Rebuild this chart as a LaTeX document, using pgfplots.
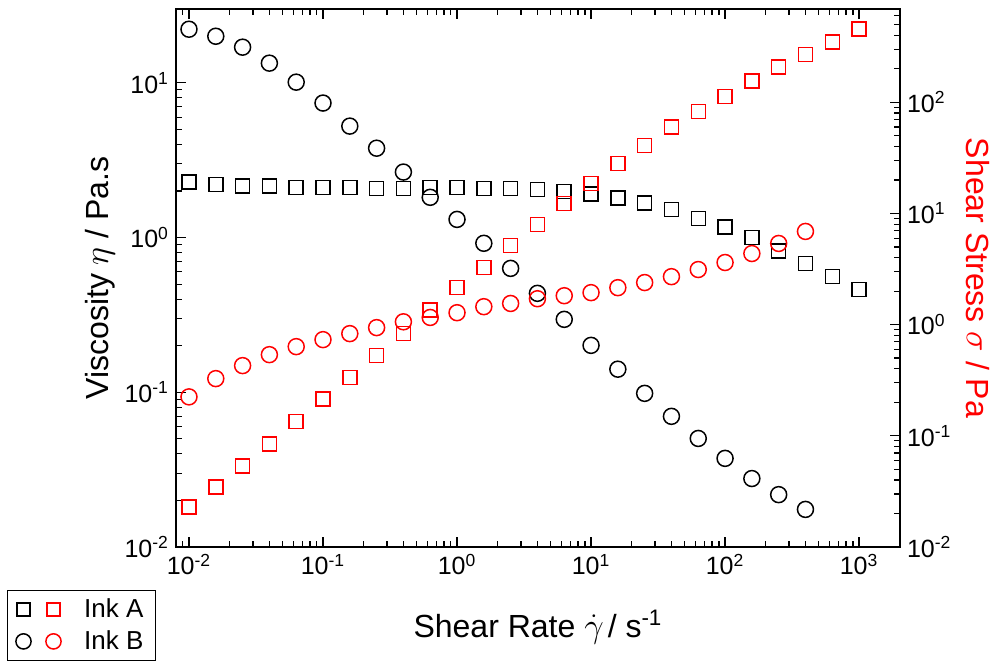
\documentclass[border=0pt]{standalone}
\usepackage{fontspec}
\setmainfont{Liberation Sans}
\usepackage{pgfplots}
\usepackage{pgfplotstable}
\pgfplotsset{compat=1.18}

% x = shear rate, eta = viscosity (Pa.s), sigma = shear stress (Pa)
\pgfplotstableread{
x eta sigma
0.01 2.28 0.0229
0.01585 2.21 0.0348
0.02512 2.15 0.0537
0.03981 2.15 0.0848
0.0631 2.11 0.134
0.1 2.11 0.215
0.1585 2.11 0.333
0.2512 2.08 0.526
0.3981 2.08 0.83
0.631 2.11 1.36
1 2.10 2.15
1.585 2.08 3.26
2.512 2.08 5.15
3.981 2.05 7.95
6.31 1.99 12.3
10 1.91 18.6
15.85 1.80 28.2
25.12 1.67 41.0
39.81 1.52 59.6
63.1 1.33 83
100 1.17 113
158.5 1.00 155
251.2 0.816 207
398.1 0.682 270
631 0.562 347
1000 0.463 455
}\inkA

\pgfplotstableread{
x eta sigma
0.01 22.2 0.224
0.01585 20.0 0.327
0.02512 17.0 0.428
0.03981 13.4 0.537
0.0631 10.1 0.634
0.1 7.4 0.733
0.1585 5.25 0.83
0.2512 3.78 0.94
0.3981 2.65 1.06
0.631 1.82 1.16
1 1.31 1.28
1.585 0.918 1.45
2.512 0.632 1.55
3.981 0.436 1.71
6.31 0.296 1.82
10 0.201 1.94
15.85 0.141 2.15
25.12 0.0984 2.39
39.81 0.0699 2.70
63.1 0.0503 3.13
100 0.0374 3.62
158.5 0.0277 4.36
251.2 0.0218 5.37
398.1 0.0175 6.89
}\inkB

\pgfplotsset{
  rheo axis/.style={
    scale only axis, width=362pt, height=269pt,
    xmin=0.008, xmax=2020,
    tick align=inside,
    major tick length=5pt, minor tick length=3pt,
    axis line style={line width=0.9pt},
    every tick/.style={line width=0.6pt, black},
    tick label style={font=\fontsize{12.5}{15}\selectfont},
    label style={font=\fontsize{16}{19}\selectfont},
    log number format basis/.code 2 args={10\textsuperscript{\pgfmathparse{int(round(##2))}\pgfmathresult}},
  },
}

\begin{document}
\begin{tikzpicture}
\begin{loglogaxis}[rheo axis, name=main,
  ymin=0.01, ymax=30,
  xtick pos=both, ytick pos=left,
  xlabel={Shear Rate $\dot{\gamma}$\kern2pt/ s\textsuperscript{-1}},
  ylabel={Viscosity $\eta$ / Pa.s},
  xlabel style={at={(axis description cs:0.5,-0.149)}, anchor=center},
  ylabel style={at={(axis description cs:-0.105,0.5)}, anchor=center},
  legend style={at={(axis description cs:-0.233,-0.08)}, anchor=north west,
    draw=black, line width=0.6pt, font=\fontsize{13}{16}\selectfont,
    inner xsep=4pt, inner ysep=2pt, row sep=1pt},
  legend cell align=left,
]
\addplot[only marks, mark=square, mark size=3.5pt, line width=0.75pt, black,
  legend image code/.code={
    \draw[black, line width=0.75pt] plot[mark=square, mark size=3.3pt] coordinates {(0pt,0pt)};
    \draw[red, line width=0.75pt] plot[mark=square, mark size=3.3pt] coordinates {(15pt,0pt)};
    \path (28pt,0pt);}]
  table[x=x, y=eta] {\inkA};
\addlegendentry{Ink A}
\addplot[only marks, mark=o, mark size=4pt, line width=0.75pt, black,
  legend image code/.code={
    \draw[black, line width=0.75pt] plot[mark=o, mark size=3.8pt] coordinates {(0pt,0pt)};
    \draw[red, line width=0.75pt] plot[mark=o, mark size=3.8pt] coordinates {(15pt,0pt)};
    \path (28pt,0pt);}]
  table[x=x, y=eta] {\inkB};
\addlegendentry{Ink B}
\end{loglogaxis}

\begin{loglogaxis}[rheo axis,
  ymin=0.01, ymax=690,
  axis x line=none, axis y line*=right,
  ylabel={Shear Stress $\sigma$ / Pa},
  ylabel style={red, at={(axis description cs:1.108,0.5)}, anchor=center, rotate=180},
]
\addplot[only marks, mark=square, mark size=3.5pt, line width=0.75pt, red] table[x=x, y=sigma] {\inkA};
\addplot[only marks, mark=o, mark size=4pt, line width=0.75pt, red] table[x=x, y=sigma] {\inkB};
\end{loglogaxis}

\pgfresetboundingbox
\path ([shift={(-88pt,-60pt)}]main.south west) rectangle ([shift={(47pt,4.5pt)}]main.north east);
\end{tikzpicture}
\end{document}
